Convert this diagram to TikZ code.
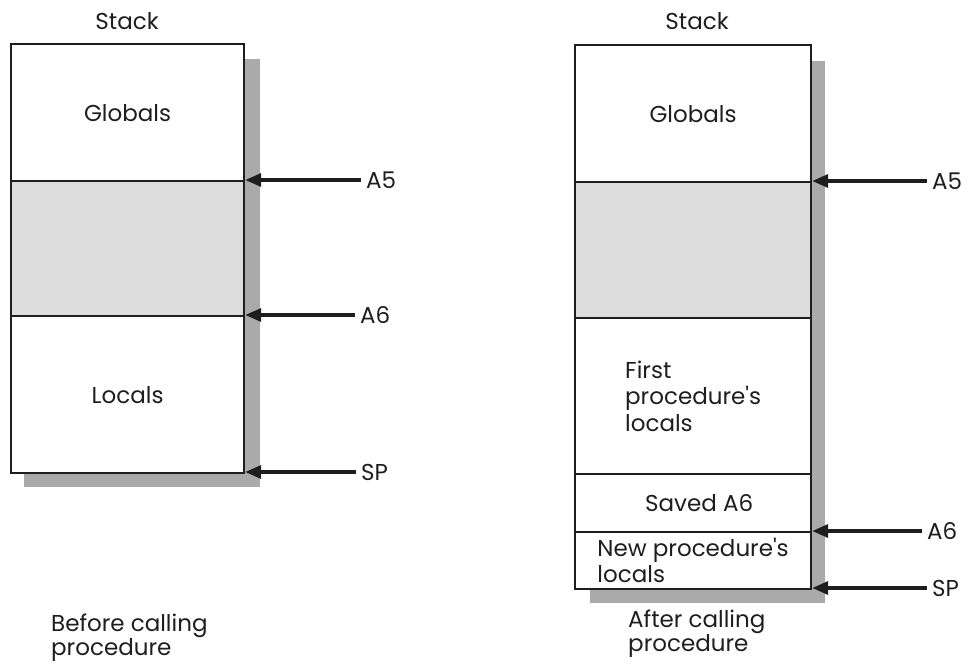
\documentclass[tikz,border=0pt]{standalone}
\usepackage{fontspec}
\setmainfont{Poppins}
\usetikzlibrary{arrows.meta}
\definecolor{shadowg}{RGB}{170,170,170}
\definecolor{fillg}{RGB}{220,220,220}
\definecolor{ink}{RGB}{30,30,30}
\newcommand{\apo}{\textquotesingle}
\begin{document}
\begin{tikzpicture}[x=1pt,y=-1pt,
  sec/.style={draw=ink, line width=2.2pt, fill=white, anchor=north west, inner sep=0pt,
              font=\fontsize{23}{26.5}\selectfont, text=ink},
  lbl/.style={font=\fontsize{23}{24}\selectfont, text=ink, inner sep=0pt},
  ptr/.style={font=\fontsize{23}{26}\selectfont, text=ink, inner sep=0pt, outer sep=5pt, anchor=west},
  arr/.style={draw=ink, line width=3.4pt, -{Triangle[length=16pt,width=13pt]}},
  shadowbox/.style={fill=shadowg}]
\useasboundingbox (0,0) rectangle (973,665);
% ---------- left stack ----------
\fill[shadowbox] (24,59) rectangle (260,487);
\node[sec, minimum width=233pt, minimum height=137pt] (globL) at (10,43) {Globals};
\node[sec, fill=fillg, minimum width=233pt, minimum height=135pt] (midL) at (10,180) {};
\node[sec, minimum width=233pt, minimum height=157pt] (locL) at (10,315) {Locals};
\node[lbl] (stackL) at (127,21) {Stack};
\node[ptr] (a5L) at (361,180) {A5};
\node[ptr] (a6L) at (355,315) {A6};
\node[ptr] (spL) at (356,472) {SP};
\draw[arr] (a5L.west) -- (a5L.west -| globL.east);
\draw[arr] (a6L.west) -- (a6L.west -| midL.east);
\draw[arr] (spL.west) -- (spL.west -| locL.east);
\node[lbl, align=left, anchor=north west] (capL) at (51,614) {Before calling\\procedure};
% ---------- right stack ----------
\fill[shadowbox] (590,61) rectangle (825,603);
\node[sec, minimum width=236pt, minimum height=137pt] (globR) at (574,44) {Globals};
\node[sec, fill=fillg, minimum width=236pt, minimum height=136pt] (midR) at (574,181) {};
\node[sec, minimum width=236pt, minimum height=156pt, align=left] (firstR) at (574,317) {First\\procedure\apo s\\locals};
\node[sec, minimum width=236pt, minimum height=58pt] (savedR) at (574,473) {\hspace*{12pt}Saved A6};
\node[sec, minimum width=236pt, minimum height=57pt, align=left] (newR) at (574,531) {New procedure\apo s\\locals};
\node[lbl] (stackR) at (697,21) {Stack};
\node[ptr] (a5R) at (927,181) {A5};
\node[ptr] (a6R) at (922,531) {A6};
\node[ptr] (spR) at (927,588) {SP};
\draw[arr] (a5R.west) -- (a5R.west -| globR.east);
\draw[arr] (a6R.west) -- (a6R.west -| savedR.east);
\draw[arr] (spR.west) -- (spR.west -| newR.east);
\node[lbl, align=left, anchor=north west] (capR) at (628,610) {After calling\\procedure};
\end{tikzpicture}
\end{document}
